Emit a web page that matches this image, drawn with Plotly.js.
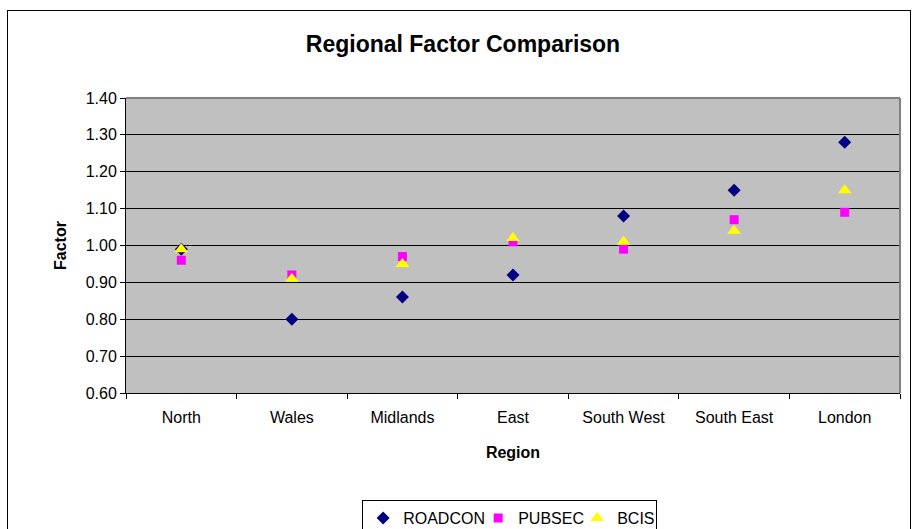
<!DOCTYPE html>
<html>
<head>
<meta charset="utf-8">
<script src="https://cdn.plot.ly/plotly-3.0.1.min.js"></script>
<style>
  html, body { margin: 0; padding: 0; background: #ffffff; overflow: hidden; }
  #wrap { position: relative; width: 915px; height: 529px; }
  #chart { position: absolute; left: 0; top: 0; width: 915px; height: 529px; }
  #frame { position: absolute; left: 7px; top: 10px; width: 902px; height: 540px; border: 1px solid #000; pointer-events: none; }
</style>
</head>
<body>
<div id="wrap">
  <div id="chart"></div>
  <div id="frame"></div>
</div>
<script>
const regions = ["North", "Wales", "Midlands", "East", "South West", "South East", "London"];
const roadcon = [0.99, 0.80, 0.86, 0.92, 1.08, 1.15, 1.28];
const pubsec  = [0.96, 0.92, 0.97, 1.01, 0.99, 1.07, 1.09];
const bcis    = [0.99, 0.91, 0.95, 1.02, 1.01, 1.04, 1.15];
const yTicks  = [0.60, 0.70, 0.80, 0.90, 1.00, 1.10, 1.20, 1.30, 1.40];

const FONT = "Liberation Sans, Arial, sans-serif";

const traces = [
  { type: "scatter", mode: "markers", name: "ROADCON", x: regions, y: roadcon, legendwidth: 70,
    marker: { symbol: "diamond", size: 10, color: "#000080", line: { width: 0 } } },
  { type: "scatter", mode: "markers", name: "PUBSEC", x: regions, y: pubsec, legendwidth: 54,
    marker: { symbol: "square", size: 9, color: "#FF00FF", line: { width: 0 } } },
  { type: "scatter", mode: "markers", name: "BCIS", x: regions, y: bcis, legendwidth: 34,
    marker: { symbol: "triangle-up", size: 12, color: "#FFFF00", line: { width: 0 } } }
];

const layout = {
  width: 915, height: 529,
  margin: { l: 126, r: 15, t: 98, b: 136 },
  paper_bgcolor: "rgba(0,0,0,0)",
  plot_bgcolor: "#C0C0C0",
  font: { family: FONT, size: 16, color: "#000" },
  title: {
    text: "<b>Regional Factor Comparison</b>",
    font: { family: FONT, size: 23, color: "#000" },
    xref: "container", x: 0.506, xanchor: "center",
    yref: "container", y: 0.917, yanchor: "middle"
  },
  xaxis: {
    type: "category",
    range: [-0.5, 6.5],
    showgrid: false,
    showline: true, linecolor: "#000", linewidth: 1,
    ticks: "outside", tickson: "boundaries", ticklen: 5, tickcolor: "#000",
    tickfont: { family: FONT, size: 16 },
    ticklabelstandoff: 10,
    title: { text: "<b>Region</b>", font: { family: FONT, size: 16 }, standoff: 21 },
    fixedrange: true
  },
  yaxis: {
    range: [0.60, 1.40],
    tickvals: yTicks,
    ticktext: yTicks.map(v => v.toFixed(2)),
    showgrid: true, gridcolor: "#000", gridwidth: 1,
    zeroline: false,
    showline: true, linecolor: "#000", linewidth: 1,
    ticks: "outside", ticklen: 5, tickcolor: "#000",
    tickfont: { family: FONT, size: 16 },
    title: { text: "<b>Factor</b>", font: { family: FONT, size: 16 }, standoff: 15 },
    fixedrange: true
  },
  shapes: [
    { type: "line", xref: "paper", yref: "paper", x0: 0, x1: 1, y0: 1, y1: 1,
      line: { color: "#808080", width: 2 }, layer: "above" },
    { type: "line", xref: "paper", yref: "paper", x0: 1, x1: 1, y0: 0, y1: 1,
      line: { color: "#808080", width: 2 }, layer: "above" }
  ],
  showlegend: true,
  legend: {
    orientation: "h",
    xref: "container", x: 0.557, xanchor: "center",
    yref: "container", y: 1 - 500 / 529, yanchor: "top",
    bgcolor: "#ffffff", bordercolor: "#000", borderwidth: 1,
    font: { family: FONT, size: 16 },
    itemwidth: 30, tracegroupgap: 0
  }
};

Plotly.newPlot("chart", traces, layout, { staticPlot: true, displayModeBar: false });
</script>
</body>
</html>
